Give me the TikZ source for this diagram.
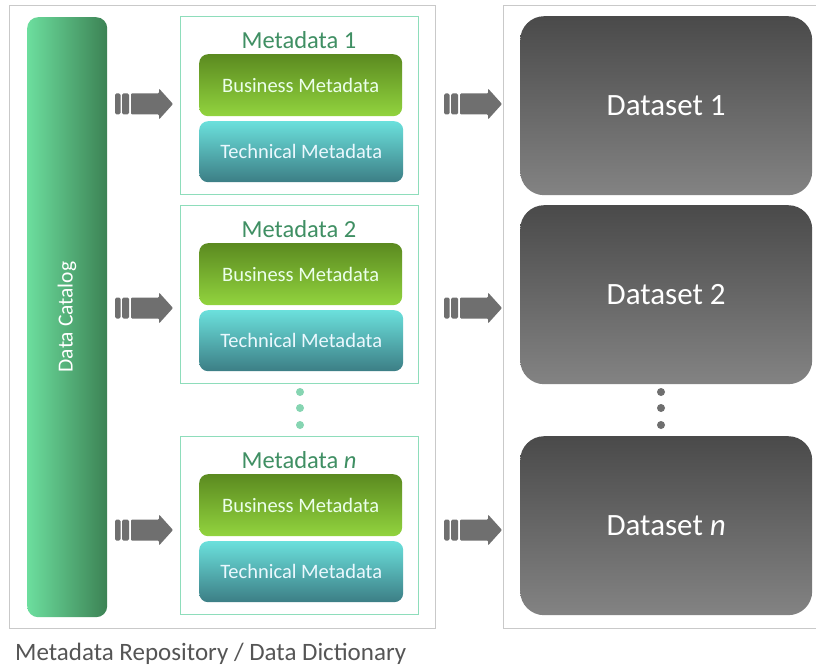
\documentclass[tikz,border=0pt]{standalone}
\usepackage{fontspec}
\setmainfont{Carlito}
\definecolor{outerline}{HTML}{C9C9C9}
\definecolor{mdline}{HTML}{8EDDBB}
\definecolor{mdtitle}{HTML}{3F8F63}
\definecolor{catL}{HTML}{6CDE9E}
\definecolor{catR}{HTML}{3C8254}
\definecolor{busT}{HTML}{5B8A20}
\definecolor{busB}{HTML}{92D43E}
\definecolor{techT}{HTML}{6BE0DC}
\definecolor{techB}{HTML}{3C7E85}
\definecolor{dsT}{HTML}{4A4A4A}
\definecolor{dsB}{HTML}{838383}
\definecolor{arrowgray}{HTML}{6F6F6F}
\definecolor{captiongray}{HTML}{555555}
\tikzset{
  outerbox/.style={draw=outerline, line width=1pt},
  mdbox/.style={draw=mdline, line width=1pt, anchor=north west, minimum width=238pt, minimum height=178pt, inner sep=0pt},
  mdtitlestyle/.style={text=mdtitle, font=\fontsize{24.5}{24.5}\selectfont, inner sep=0pt},
  busbox/.style={anchor=north west, minimum width=203pt, minimum height=62pt, rounded corners=9pt, top color=busT, bottom color=busB, text=white!92!green, font=\fontsize{20.5}{20.5}\selectfont, inner sep=0pt},
  techbox/.style={anchor=north west, minimum width=204pt, minimum height=61pt, rounded corners=9pt, top color=techT, bottom color=techB, text=white!92!cyan, font=\fontsize{20.5}{20.5}\selectfont, inner sep=0pt},
  dsbox/.style={anchor=north west, minimum width=292pt, minimum height=179pt, rounded corners=24pt, top color=dsT, bottom color=dsB, text=white, font=\fontsize{31}{31}\selectfont, inner sep=0pt},
  greendot/.style={circle, fill=mdline!90!mdtitle, minimum size=8pt, inner sep=0pt},
  graydot/.style={circle, fill=arrowgray, minimum size=8pt, inner sep=0pt},
  blockarrow/.pic={
    \fill[arrowgray, rounded corners=1.5pt] (0,-10.5) rectangle (5.5,10.5);
    \fill[arrowgray, rounded corners=1.5pt] (7,-10.5) rectangle (14,10.5);
    \fill[arrowgray, rounded corners=1pt] (16,-10.5) -- (44,-10.5) -- (44,-15.5) -- (58,0) -- (44,15.5) -- (44,10.5) -- (16,10.5) -- cycle;
  }
}
\begin{document}
\begin{tikzpicture}[x=1pt,y=-1pt]
\useasboundingbox (0,0) rectangle (816,668);
\fill[white] (0,0) rectangle (816,668);
% outer frames
\node[outerbox, anchor=north west, minimum width=426pt, minimum height=623pt, inner sep=0pt] (repo) at (9,5) {};
\node[outerbox, anchor=north west, minimum width=320pt, minimum height=623pt, inner sep=0pt] (dsframe) at (503,5) {};
% data catalog
\node[anchor=north west, minimum width=80pt, minimum height=600pt, rounded corners=11pt, left color=catL, right color=catR, inner sep=0pt] (catalog) at (27,17) {};
\node[rotate=90, text=white, font=\fontsize{21.5}{21.5}\selectfont] (catlabel) at (67,317) {Data Catalog};
% metadata blocks
\foreach \i/\y/\lab in {1/16/{Metadata 1}, 2/205/{Metadata 2}, 3/436/{Metadata \textit{n}}}{
  \node[mdbox] (md\i) at (180,\y) {};
  \node[mdtitlestyle] (mdt\i) at (299,\y+24) {\lab};
  \node[busbox] (bus\i) at (199,\y+38) {Business Metadata};
  \node[techbox] (tech\i) at (199,\y+105) {Technical Metadata};
}
% datasets
\node[dsbox] (ds1) at (520,16) {Dataset 1};
\node[dsbox] (ds2) at (520,205) {Dataset 2};
\node[dsbox] (ds3) at (520,436) {Dataset \textit{n}};
% dots
\foreach \k/\yy in {1/392,2/408,3/425}{
  \node[greendot] (gd\k) at (300,\yy) {};
  \node[graydot] (kd\k) at (661,\yy) {};
}
% block arrows
\foreach \yy in {104,308,530}{
  \pic at (115,\yy) {blockarrow};
  \pic at (444,\yy) {blockarrow};
}
% caption
\node[anchor=west, text=captiongray, font=\fontsize{25}{25}\selectfont, inner sep=0pt] (caption) at (15,654) {Metadata Repository / Data Dictionary};
\end{tikzpicture}
\end{document}
